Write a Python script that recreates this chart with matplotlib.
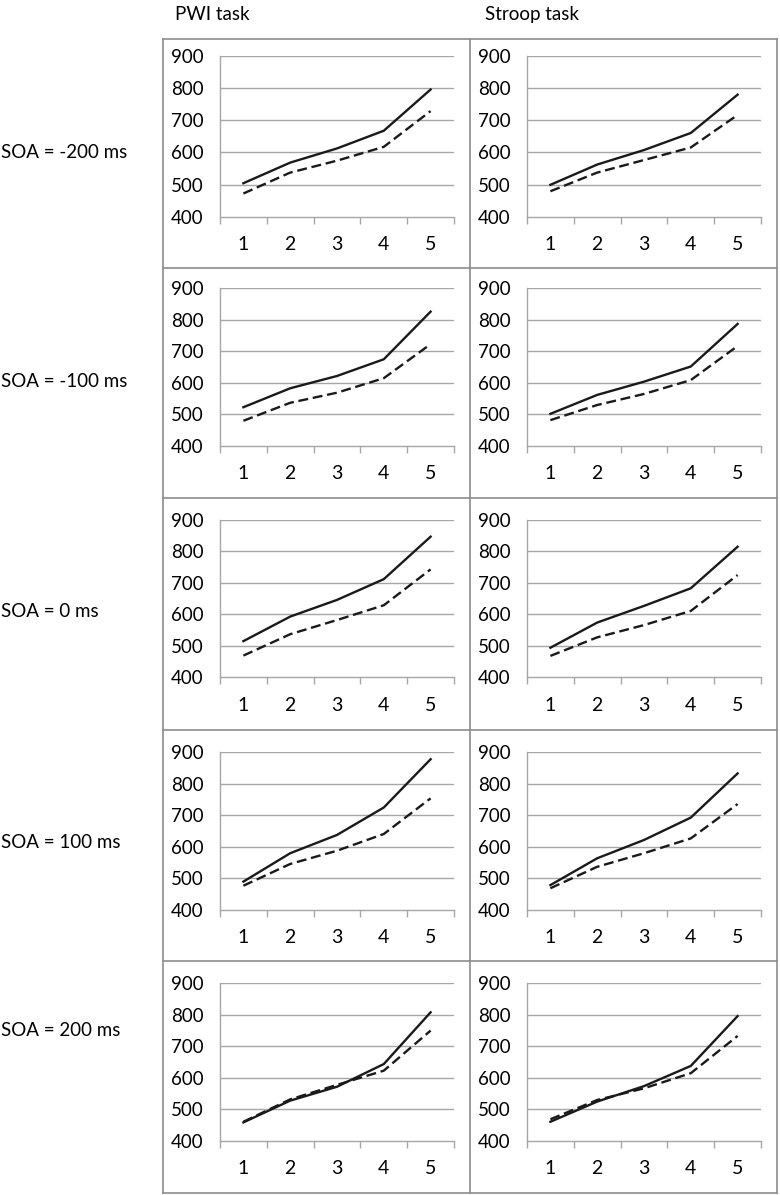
import numpy as np
import matplotlib
matplotlib.use("Agg")
import matplotlib.pyplot as plt
from matplotlib.lines import Line2D

plt.rcParams['font.family'] = ['Lato', 'DejaVu Sans']

# ---- data ----
cats = [1, 2, 3, 4, 5]
soa_labels = ["SOA = -200 ms", "SOA = -100 ms", "SOA = 0 ms", "SOA = 100 ms", "SOA = 200 ms"]
task_labels = ["PWI task", "Stroop task"]

# solid line
pwi_solid = [
    [504, 568, 612, 667, 795],
    [523, 583, 622, 675, 826],
    [515, 593, 646, 712, 847],
    [490, 580, 638, 725, 878],
    [459, 528, 572, 644, 808],
]
# dashed line
pwi_dash = [
    [472, 537, 574, 617, 728],
    [480, 537, 569, 615, 723],
    [469, 537, 582, 629, 743],
    [477, 546, 588, 641, 754],
    [461, 532, 578, 623, 750],
]
stroop_solid = [
    [499, 562, 607, 660, 779],
    [502, 562, 604, 652, 787],
    [494, 574, 627, 683, 815],
    [479, 564, 622, 693, 833],
    [461, 525, 574, 638, 796],
]
stroop_dash = [
    [479, 537, 576, 615, 716],
    [482, 530, 565, 609, 717],
    [468, 527, 566, 611, 725],
    [469, 537, 580, 627, 736],
    [469, 530, 567, 615, 733],
]

# ---- layout (pixels) ----
W, H = 780, 1195
col_edges = [163, 470, 777]
row_edges = [39, 268, 498, 730, 961, 1193]
ax_top = [55.7, 288.3, 520, 752.3, 983.3]      # y of 900 line
ax_bot = [216.7, 446, 677.3, 910, 1141]        # y of 400 line
row_label_y = [152, 381, 611, 842, 1030]
grid_col = "#a6a6a6"
line_col = "#1a1a1a"

fig = plt.figure(figsize=(W / 100, H / 100), dpi=100)

# background axis for the frame and text (pixel coordinates)
bg = fig.add_axes([0, 0, 1, 1])
bg.set_xlim(0, W)
bg.set_ylim(H, 0)
bg.axis("off")

border = "#8c8c8c"
for x in col_edges:
    bg.add_line(Line2D([x, x], [row_edges[0], row_edges[-1]], color=border, lw=1.2))
for y in row_edges:
    bg.add_line(Line2D([col_edges[0], col_edges[-1]], [y, y], color=border, lw=1.2))

bg.text(175, 14, task_labels[0], fontsize=13.5, ha="left", va="center")
bg.text(485, 14, task_labels[1], fontsize=13.5, ha="left", va="center")
for lab, y in zip(soa_labels, row_label_y):
    bg.text(1, y, lab, fontsize=13.5, ha="left", va="center")

series = [(pwi_solid, pwi_dash), (stroop_solid, stroop_dash)]

for r in range(5):
    for c in range(2):
        left = col_edges[c] + 57
        right = col_edges[c + 1] - 16
        top = ax_top[r]
        bot = ax_bot[r]
        ax = fig.add_axes([left / W, 1 - bot / H, (right - left) / W, (bot - top) / H])
        ax.set_xlim(0.5, 5.5)
        ax.set_ylim(400, 900)
        ax.set_yticks([400, 500, 600, 700, 800, 900])
        for v in [500, 600, 700, 800, 900]:
            ax.axhline(v, color=grid_col, lw=1, zorder=1)
        solid, dash = series[c]
        ax.plot(cats, solid[r], color=line_col, lw=1.7, zorder=3,
                solid_joinstyle="round")
        ax.plot(cats, dash[r], color=line_col, lw=1.7, zorder=3,
                dashes=(4.2, 2.0))
        for s in ["top", "right"]:
            ax.spines[s].set_visible(False)
        for s in ["left", "bottom"]:
            ax.spines[s].set_color(grid_col)
            ax.spines[s].set_linewidth(1)
        ax.set_xticks(cats)
        ax.set_xticks([0.5, 1.5, 2.5, 3.5, 4.5, 5.5], minor=True)
        ax.tick_params(axis="x", which="major", length=0, pad=14, labelsize=14)
        ax.tick_params(axis="x", which="minor", length=5, width=1,
                       color=grid_col, direction="out")
        ax.tick_params(axis="y", length=0, pad=12, labelsize=13.5)
        ax.set_facecolor("none")

fig.savefig("out.png", dpi=100)
